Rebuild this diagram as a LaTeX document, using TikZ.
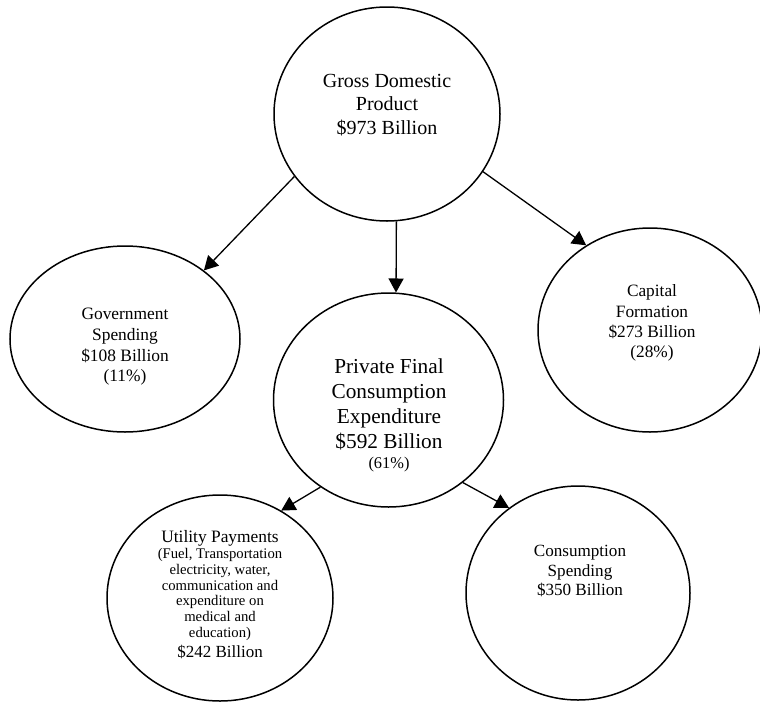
\documentclass[tikz,border=0pt]{standalone}
\usepackage{fontspec}
\setmainfont{Liberation Serif}
\usetikzlibrary{shapes.geometric,arrows.meta}
\begin{document}
\begin{tikzpicture}[x=1pt,y=-1pt,
  bubble/.style={draw=black,line width=1.5pt,ellipse,inner sep=0pt},
  lbl/.style={align=center,inner sep=0pt,text=black},
  link/.style={draw=black,line width=1.3pt,-{Triangle[length=14pt,width=15pt]}}]
\useasboundingbox (0,0) rectangle (760,702);
% bubbles
\node[bubble,minimum width=226pt,minimum height=214pt] (gdp) at (387,114) {};
\node[bubble,minimum width=230pt,minimum height=186pt] (gov) at (125,339) {};
\node[bubble,minimum width=224pt,minimum height=204pt] (cap) at (650,330) {};
\node[bubble,minimum width=230pt,minimum height=214pt] (pfc) at (388.5,400) {};
\node[bubble,minimum width=226pt,minimum height=206pt] (util) at (220,598) {};
\node[bubble,minimum width=224pt,minimum height=214pt] (cons) at (578,593) {};
% labels
\node[lbl,font=\fontsize{20}{23.5}\selectfont] (gdpt) at (387,105)
  {Gross Domestic\\Product\\\$973 Billion};
\node[lbl,font=\fontsize{17.4}{20.7}\selectfont] (govt) at (125,347)
  {Government\\Spending\\\$108 Billion\\(11\%)};
\node[lbl,font=\fontsize{17.3}{20.2}\selectfont] (capt) at (652,323)
  {Capital\\Formation\\\$273 Billion\\(28\%)};
\node[lbl,font=\fontsize{21.3}{25}\selectfont] (pfct) at (389,404.5)
  {Private Final\\Consumption\\Expenditure\\\$592 Billion};
\node[lbl,font=\fontsize{16.4}{19}\selectfont] (pfcp) at (389,464.5) {(61\%)};
\node[lbl,font=\fontsize{17.4}{20}\selectfont] (utilt) at (220,538.5) {Utility Payments};
\node[lbl,font=\fontsize{14.7}{15.8}\selectfont] (utild) at (220,594.5)
  {(Fuel, Transportation\\electricity, water,\\communication and\\expenditure on\\medical and\\education)};
\node[lbl,font=\fontsize{17}{20}\selectfont] (utilv) at (220,651.5) {\$242 Billion};
\node[lbl,font=\fontsize{17.1}{19.7}\selectfont] (const) at (580,571)
  {Consumption\\Spending\\\$350 Billion};
% connectors
\draw[link] (gdp.214.6) -- (gov.41.5);
\draw[link] (gdp.275) -- (pfc.86);
\draw[link] (gdp.329.8) -- (cap.127.4);
\draw[link] (pfc.232.6) -- (util.55);
\draw[link] (pfc.312.4) -- (cons.129.3);
\end{tikzpicture}
\end{document}
